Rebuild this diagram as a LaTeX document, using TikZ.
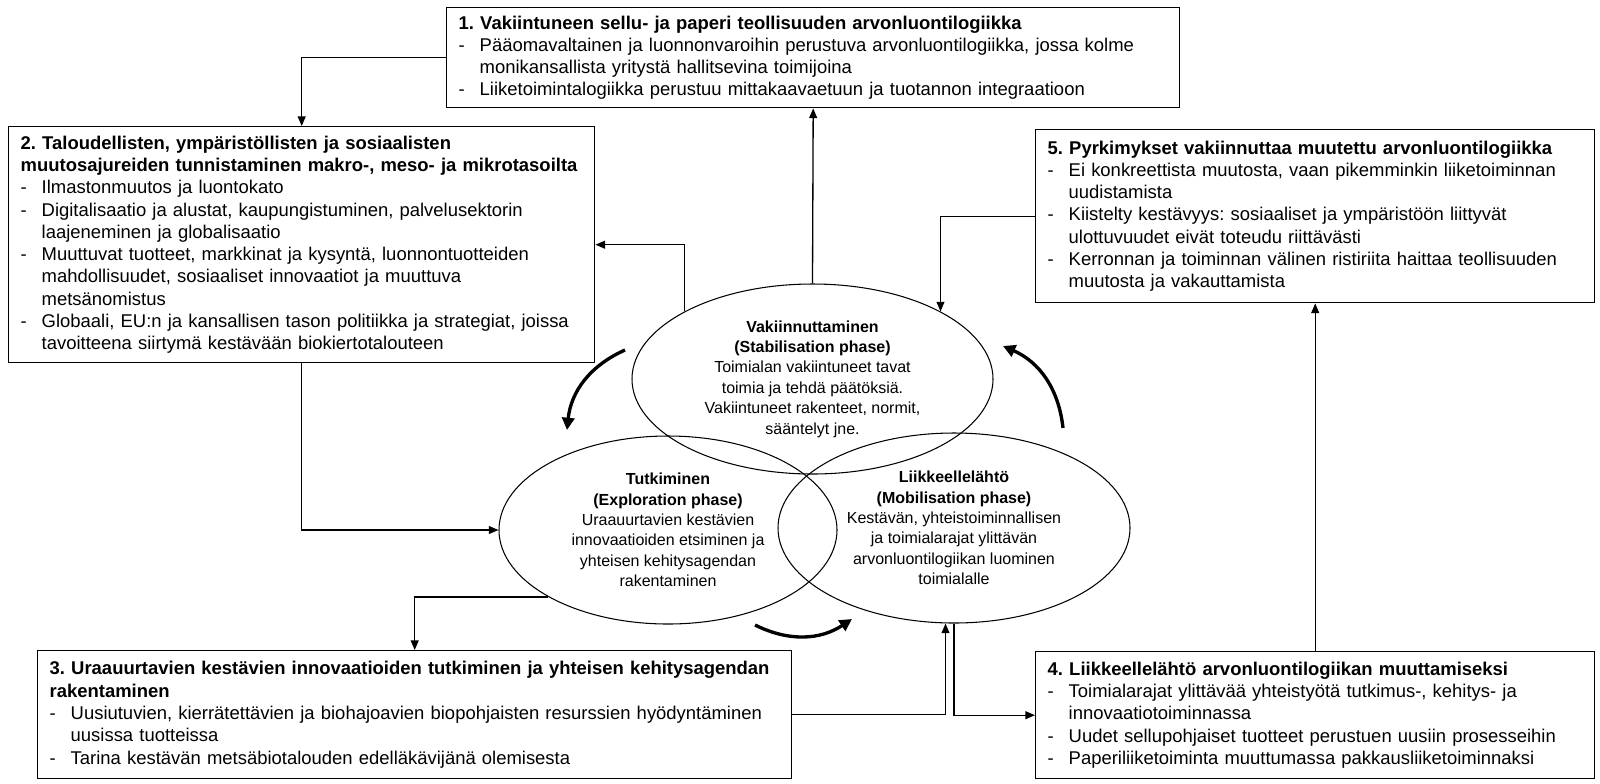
\documentclass[tikz,border=0pt]{standalone}
\usepackage{fontspec}
\setmainfont{Liberation Sans}
\usetikzlibrary{arrows.meta,shapes.geometric}
\frenchspacing

\newcommand{\bul}[1]{\makebox[0.42cm][l]{-}#1}
\newcommand{\ind}[1]{\hspace*{0.42cm}#1}

\begin{document}
\begin{tikzpicture}[
    box/.style={draw, line width=0.8pt, anchor=north west, align=left, inner xsep=0.24cm, inner ysep=0pt, font=\fontsize{10.5}{12.7}\selectfont},
    phase/.style={draw, ellipse, line width=0.6pt, inner sep=0pt, align=center, font=\fontsize{9.1}{11.6}\selectfont},
    conn/.style={line width=0.75pt, -{Triangle[length=5.5pt,width=4.5pt]}},
    turn/.style={line width=1.9pt, -{Triangle[length=7pt,width=7pt]}}
  ]
  \useasboundingbox (0,0) rectangle (32,-15.66);

  % boxes
  \node[box, text width=14.18cm, minimum height=2cm] (b1) at (8.92,-0.14) {%
    \textbf{1. Vakiintuneen sellu- ja paperi teollisuuden arvonluontilogiikka}\\
    \bul{Pääomavaltainen ja luonnonvaroihin perustuva arvonluontilogiikka, jossa kolme}\\
    \ind{monikansallista yritystä hallitsevina toimijoina}\\
    \bul{Liiketoimintalogiikka perustuu mittakaavaetuun ja tuotannon integraatioon}};
  \node[box, text width=11.24cm, minimum height=4.72cm] (b2) at (0.16,-2.52) {%
    \textbf{2. Taloudellisten, ympäristöllisten ja sosiaalisten}\\
    \textbf{muutosajureiden tunnistaminen makro-, meso- ja mikrotasoilta}\\
    \bul{Ilmastonmuutos ja luontokato}\\
    \bul{Digitalisaatio ja alustat, kaupungistuminen, palvelusektorin}\\
    \ind{laajeneminen ja globalisaatio}\\
    \bul{Muuttuvat tuotteet, markkinat ja kysyntä, luonnontuotteiden}\\
    \ind{mahdollisuudet, sosiaaliset innovaatiot ja muuttuva}\\
    \ind{metsänomistus}\\
    \bul{Globaali, EU:n ja kansallisen tason politiikka ja strategiat, joissa}\\
    \ind{tavoitteena siirtymä kestävään biokiertotalouteen}};
  \node[box, text width=10.7cm, minimum height=3.46cm] (b5) at (20.7,-2.58) {%
    \textbf{5. Pyrkimykset vakiinnuttaa muutettu arvonluontilogiikka}\\
    \bul{Ei konkreettista muutosta, vaan pikemminkin liiketoiminnan}\\
    \ind{uudistamista}\\
    \bul{Kiistelty kestävyys: sosiaaliset ja ympäristöön liittyvät}\\
    \ind{ulottuvuudet eivät toteudu riittävästi}\\
    \bul{Kerronnan ja toiminnan välinen ristiriita haittaa teollisuuden}\\
    \ind{muutosta ja vakauttamista}};
  \node[box, text width=14.6cm, minimum height=2.56cm] (b3) at (0.74,-13.0) {%
    \textbf{3. Uraauurtavien kestävien innovaatioiden tutkiminen ja yhteisen kehitysagendan}\\
    \textbf{rakentaminen}\\
    \bul{Uusiutuvien, kierrätettävien ja biohajoavien biopohjaisten resurssien hyödyntäminen}\\
    \ind{uusissa tuotteissa}\\
    \bul{Tarina kestävän metsäbiotalouden edelläkävijänä olemisesta}};
  \node[box, text width=10.7cm, minimum height=2.54cm] (b4) at (20.7,-13.02) {%
    \textbf{4. Liikkeellelähtö arvonluontilogiikan muuttamiseksi}\\
    \bul{Toimialarajat ylittävää yhteistyötä tutkimus-, kehitys- ja}\\
    \ind{innovaatiotoiminnassa}\\
    \bul{Uudet sellupohjaiset tuotteet perustuen uusiin prosesseihin}\\
    \bul{Paperiliiketoiminta muuttumassa pakkausliiketoiminnaksi}};

  % phases
  \node[phase, minimum width=7.22cm, minimum height=3.8cm] (stab) at (16.25,-7.58) {%
    \textbf{Vakiinnuttaminen}\\ \textbf{(Stabilisation phase)}\\
    Toimialan vakiintuneet tavat\\ toimia ja tehdä päätöksiä.\\
    Vakiintuneet rakenteet, normit,\\ sääntelyt jne.};
  \node[phase, minimum width=6.76cm, minimum height=3.76cm] (expl) at (13.36,-10.6) {%
    \textbf{Tutkiminen}\\ \textbf{(Exploration phase)}\\
    Uraauurtavien kestävien\\ innovaatioiden etsiminen ja\\
    yhteisen kehitysagendan\\ rakentaminen};
  \node[phase, minimum width=7.04cm, minimum height=3.8cm] (mobi) at (19.08,-10.56) {%
    \textbf{Liikkeellelähtö}\\ \textbf{(Mobilisation phase)}\\
    Kestävän, yhteistoiminnallisen\\ ja toimialarajat ylittävän\\
    arvonluontilogiikan luominen\\ toimialalle};

  % connectors
  \draw[conn] (b1.west) -| (b2.north);
  \draw[conn] (stab.north) -- (b1.south);
  \draw[conn] (stab.north west) |- (b2.east);
  \draw[conn] (b5.west) -| (stab.north east);
  \draw[conn] (b2.south) |- (expl.west);
  \draw[conn] (expl.south west) -| (b3.north);
  \draw[conn] (b3.east) -| ([xshift=-0.17cm]mobi.south);
  \draw[conn] (mobi.south) |- (b4.west);
  \draw[conn] (b4.north) -- (b5.south);

  % cycle arrows
  \draw[turn] (12.5,-7.0) to[bend right=30] (11.34,-8.6);
  \draw[turn] (15.1,-12.5) to[bend right=30] (17.04,-12.38);
  \draw[turn] (21.26,-8.56) to[bend right=30] (20.06,-6.92);
\end{tikzpicture}
\end{document}
